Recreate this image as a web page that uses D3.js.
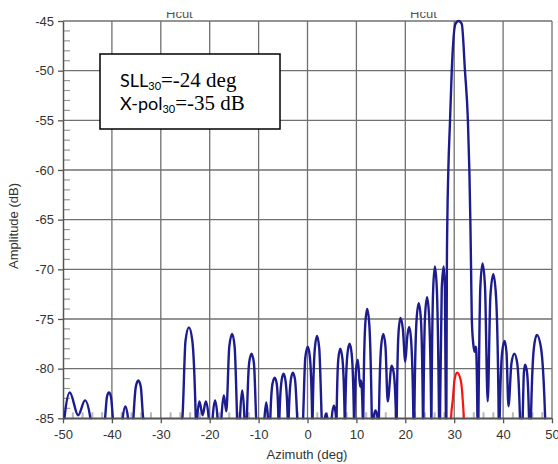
<!DOCTYPE html>
<html>
<head>
<meta charset="utf-8">
<script src="https://cdn.jsdelivr.net/npm/d3@7/dist/d3.min.js"></script>
<style>
  html, body { margin: 0; padding: 0; background: #fff; }
  svg { display: block; }
</style>
</head>
<body>
<svg id="chart" width="558" height="464"></svg>
<script>
// ---------------- data ----------------
const xTicks = [-50, -40, -30, -20, -10, 0, 10, 20, 30, 40, 50];
const yTicks = [-85, -80, -75, -70, -65, -60, -55, -50, -45];

// co-polar cut (blue): [azimuth (deg), amplitude (dB)]
const coPol = [
  [-50.0, -87], [-49.7, -85], [-48.6, -82.4], [-46.9, -84.7], [-45.5, -83.2], [-44.4, -85],
  [-43.0, -92], [-41.4, -85], [-41.0, -82.8], [-40.6, -82.4], [-40.2, -82.8], [-39.8, -85],
  [-38.8, -92], [-37.8, -85], [-37.25, -83.8], [-36.7, -85], [-36.2, -92],
  [-35.6, -85], [-35.1, -81.8], [-34.6, -81.2], [-34.1, -81.8], [-33.6, -85],
  [-29.6, -92], [-25.6, -85], [-24.95, -77.2], [-24.25, -75.85], [-23.55, -77.2], [-22.85, -85],
  [-22.7, -88], [-22.55, -85], [-22.1, -83.3], [-21.45, -84.7], [-20.8, -83.3], [-20.2, -85],
  [-19.8, -90], [-19.4, -85], [-18.9, -83.2], [-18.4, -85], [-18.0, -90], [-17.6, -85],
  [-17.1, -82.7], [-16.6, -84.3], [-16.0, -77.8], [-15.4, -76.5], [-14.9, -77.8], [-14.4, -85],
  [-14.1, -90], [-13.8, -85], [-13.35, -82.2], [-12.9, -85], [-12.65, -90], [-12.4, -85],
  [-11.95, -79.5], [-11.45, -78.5], [-10.95, -79.5], [-10.5, -85], [-9.6, -92],
  [-8.8, -85], [-8.45, -83.4], [-8.1, -85], [-7.85, -90], [-7.6, -85],
  [-7.15, -81.5], [-6.7, -80.9], [-6.3, -81.5], [-5.95, -85], [-5.85, -90], [-5.75, -85],
  [-5.3, -81.2], [-4.9, -80.5], [-4.5, -81.2], [-4.05, -85], [-3.95, -90], [-3.85, -85],
  [-3.4, -81.1], [-3.0, -80.4], [-2.55, -81.1], [-2.1, -85], [-1.5, -92], [-0.9, -85],
  [-0.45, -78.9], [0.05, -77.8], [0.5, -78.9], [0.95, -85], [1.0, -90], [1.05, -85],
  [1.5, -77.95], [1.95, -76.7], [2.4, -77.95], [2.9, -85], [3.25, -90], [3.55, -85],
  [3.8, -84.5], [4.05, -85], [4.5, -90], [4.95, -85], [5.4, -83.7], [5.85, -85],
  [5.9, -90], [5.95, -85], [6.3, -79.05], [6.7, -78.0], [7.15, -79.05], [7.6, -85],
  [7.65, -90], [7.7, -85], [8.15, -78.6], [8.6, -77.5], [9.05, -78.6], [9.5, -85],
  [9.55, -90], [9.6, -85], [9.95, -80.0], [10.3, -79.1], [10.75, -81.8], [10.95, -81.2],
  [11.3, -85], [11.35, -90], [11.4, -85], [11.8, -75.65], [12.2, -74.0], [12.65, -75.65],
  [13.15, -85], [13.3, -90], [13.5, -85], [13.9, -84.2], [14.35, -85], [14.45, -90],
  [14.6, -85], [15.05, -77.8], [15.5, -76.5], [15.95, -77.8], [16.4, -83.3], [17.2, -79.7],
  [17.65, -80.5], [18.1, -85], [18.17, -90], [18.25, -85], [18.6, -76.5], [19.0, -74.9],
  [19.5, -76.0], [20.0, -79.3], [20.4, -76.8], [20.8, -75.8], [21.2, -77.2], [21.65, -85],
  [21.75, -90], [21.85, -85], [22.3, -75.1], [22.75, -73.4], [23.2, -75.1], [23.6, -85],
  [23.65, -90], [23.7, -85], [24.05, -74.6], [24.45, -72.8], [24.85, -74.6], [25.3, -85],
  [25.32, -90], [25.35, -85], [25.7, -72.0], [26.05, -69.7], [26.45, -72.0], [26.9, -85],
  [27.0, -90], [27.1, -85], [27.45, -72.0], [27.85, -69.7], [28.1, -72.0], [28.3, -85],
  [28.35, -90], [28.4, -85], [28.5, -70], [28.6, -65], [28.8, -60], [29.15, -55],
  [29.5, -50], [30.25, -45.3], [30.9, -45.0], [31.55, -45.3], [32.2, -50], [32.8, -55],
  [33.1, -60], [33.3, -65], [33.45, -70], [33.6, -75], [33.9, -77.5], [34.2, -78.3],
  [34.45, -77.8], [34.75, -85], [34.85, -90], [34.95, -85], [35.35, -71.75], [35.8, -69.4],
  [36.3, -71.75], [36.85, -83.3], [37.4, -72.7], [38.0, -70.5], [38.55, -72.7], [39.1, -85],
  [39.2, -90], [39.3, -85], [39.8, -78.4], [40.3, -77.2], [40.7, -78.4], [41.1, -83.8],
  [41.7, -79.5], [42.3, -78.5], [42.9, -79.5], [43.45, -85], [43.7, -90], [44.0, -85],
  [44.25, -80.4], [44.5, -79.6], [44.9, -80.4], [45.3, -85], [45.5, -90], [45.7, -85],
  [46.3, -77.9], [46.9, -76.6], [47.75, -77.9], [48.6, -85], [49.0, -92], [50.0, -95]
];

// cross-polar cut (red)
const xPol = [
  [29.2, -90], [29.35, -85], [29.7, -83.2], [30.05, -81.2], [30.6, -80.4],
  [31.35, -81.2], [31.75, -83.2], [31.95, -85], [32.1, -90]
];

const titles = ["Hcut", "Hcut"];
const titleAz = [-26.2, 23.7];

// ---------------- layout ----------------
const svg = d3.select("#chart");
const pLeft = 63, pRight = 552, pTop = 21, pBottom = 418.3;
const x = d3.scaleLinear().domain([-50, 50]).range([pLeft, pRight]);
const y = d3.scaleLinear().domain([-85, -45]).range([pBottom, pTop]);

const gridColor = "#707070";
const font = "'Liberation Sans', Arial, sans-serif";

// titles (cut at top like the original)
const defs = svg.append("defs");
defs.append("clipPath").attr("id", "titleClip")
  .append("rect").attr("x", 0).attr("y", 12).attr("width", 558).attr("height", 20);
svg.append("g").attr("clip-path", "url(#titleClip)")
  .selectAll("text").data(titles).join("text")
  .attr("x", (d, i) => x(titleAz[i]))
  .attr("y", 17.5)
  .attr("text-anchor", "middle")
  .attr("font-family", font)
  .attr("font-size", 13)
  .attr("fill", "#555")
  .text(d => d);

// grid
const grid = svg.append("g");
grid.selectAll("line.v").data(xTicks.slice(1)).join("line")
  .attr("class", "v")
  .attr("x1", d => x(d)).attr("x2", d => x(d))
  .attr("y1", pTop).attr("y2", pBottom)
  .attr("stroke", gridColor).attr("stroke-width", 1.3);
grid.selectAll("line.h").data(yTicks.slice(1)).join("line")
  .attr("class", "h")
  .attr("x1", pLeft).attr("x2", pRight)
  .attr("y1", d => y(d)).attr("y2", d => y(d))
  .attr("stroke", gridColor).attr("stroke-width", 1.3);

// minor y ticks (inside, left)
const yMinor = y.ticks(40).filter(v => !yTicks.includes(v));
svg.append("g").selectAll("line").data(yMinor).join("line")
  .attr("x1", pLeft).attr("x2", pLeft + 7)
  .attr("y1", d => y(d)).attr("y2", d => y(d))
  .attr("stroke", "#999").attr("stroke-width", 1.2);

// minor x ticks (inside, bottom, light gray)
const xMinor = x.ticks(50).filter(v => !xTicks.includes(v));
svg.append("g").selectAll("line").data(xMinor).join("line")
  .attr("x1", d => x(d)).attr("x2", d => x(d))
  .attr("y1", pBottom - 6).attr("y2", pBottom)
  .attr("stroke", "#b8b8b8").attr("stroke-width", 2);

// axes (plain hyphen-minus labels as in the original)
const fmt = d => String(d);
const yAxis = svg.append("g").attr("transform", `translate(${pLeft},0)`)
  .call(d3.axisLeft(y).tickValues(yTicks).tickFormat(fmt).tickSize(5).tickSizeOuter(0).tickPadding(4));
const xAxis = svg.append("g").attr("transform", `translate(0,${pBottom})`)
  .call(d3.axisBottom(x).tickValues(xTicks).tickFormat(fmt).tickSize(5).tickSizeOuter(0).tickPadding(6));
[yAxis, xAxis].forEach(a => {
  a.select(".domain").attr("stroke", "#555").attr("stroke-width", 1.5);
  a.selectAll(".tick line").attr("stroke", "#555").attr("stroke-width", 1.3);
  a.selectAll(".tick text").attr("font-family", font).attr("font-size", 13).attr("fill", "#333");
});

// curves
defs.append("clipPath").attr("id", "plotClip")
  .append("rect").attr("x", pLeft).attr("y", pTop - 1.5)
  .attr("width", pRight - pLeft).attr("height", pBottom - pTop + 2.5);

const line = d3.line()
  .x(d => x(d[0])).y(d => y(d[1]))
  .curve(d3.curveMonotoneX);

const plot = svg.append("g").attr("clip-path", "url(#plotClip)");
plot.append("path")
  .attr("d", line(coPol))
  .attr("fill", "none").attr("stroke", "#1c1c8e").attr("stroke-width", 2.4)
  .attr("stroke-linejoin", "round");
plot.append("path")
  .attr("d", line(xPol))
  .attr("fill", "none").attr("stroke", "#ff1010").attr("stroke-width", 2.2);

// re-draw bottom axis line over curves
svg.append("line").attr("x1", pLeft).attr("x2", pRight).attr("y1", pBottom).attr("y2", pBottom)
  .attr("stroke", "#555").attr("stroke-width", 1.5);

// axis titles
svg.append("text")
  .attr("x", 307).attr("y", 459)
  .attr("text-anchor", "middle").attr("font-family", font).attr("font-size", 13).attr("fill", "#333")
  .text("Azimuth (deg)");
svg.append("text")
  .attr("transform", "translate(18,226) rotate(-90)")
  .attr("text-anchor", "middle").attr("font-family", font).attr("font-size", 13).attr("fill", "#333")
  .text("Amplitude (dB)");

// annotation box
const box = svg.append("g");
box.append("rect").attr("x", 100).attr("y", 54).attr("width", 180).attr("height", 75)
  .attr("fill", "#fff").attr("stroke", "#000").attr("stroke-width", 1.5);
const sans = "Lato, 'Open Sans', sans-serif";
const serif = "'Liberation Serif', 'Times New Roman', serif";
function boxLine(yb, prefix, rest) {
  const t = box.append("text").attr("x", 120).attr("y", yb).attr("fill", "#000");
  t.append("tspan").attr("font-family", sans).attr("font-size", 18).text(prefix);
  t.append("tspan").attr("font-family", sans).attr("font-size", 11).attr("dy", 3).text("30");
  t.append("tspan").attr("font-family", serif).attr("font-size", 21).attr("dy", -3).text(rest);
}
boxLine(87, "SLL", "=-24 deg");
boxLine(110, "X-pol", "=-35 dB");
</script>
</body>
</html>
